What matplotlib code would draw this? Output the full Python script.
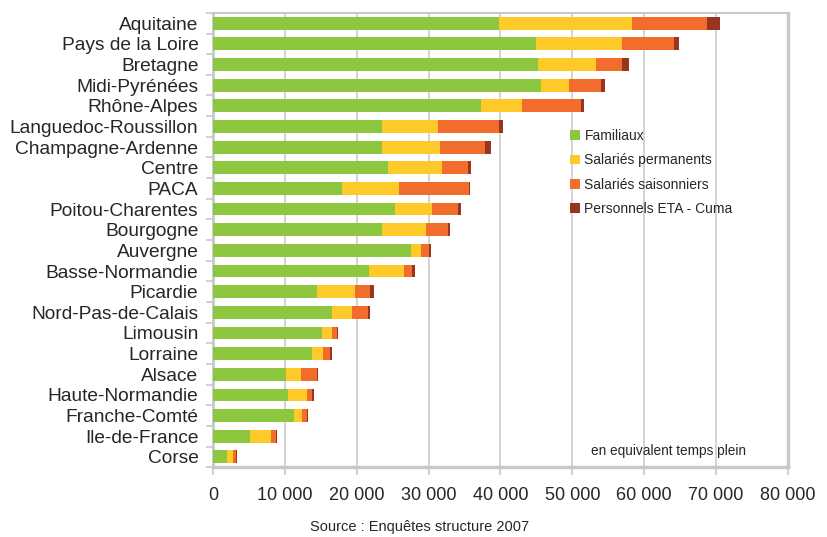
import matplotlib
matplotlib.use("Agg")
import matplotlib.pyplot as plt
from matplotlib.patches import Patch

plt.rcParams['font.family'] = ['Liberation Sans', 'DejaVu Sans']

regions = ["Aquitaine", "Pays de la Loire", "Bretagne", "Midi-Pyrénées", "Rhône-Alpes",
           "Languedoc-Roussillon", "Champagne-Ardenne", "Centre", "PACA", "Poitou-Charentes",
           "Bourgogne", "Auvergne", "Basse-Normandie", "Picardie", "Nord-Pas-de-Calais",
           "Limousin", "Lorraine", "Alsace", "Haute-Normandie", "Franche-Comté",
           "Ile-de-France", "Corse"]

familiaux = [39800, 44900, 45200, 45600, 37300, 23500, 23500, 24400, 17900, 25300,
             23500, 27500, 21650, 14500, 16600, 15200, 13800, 10200, 10450, 11300,
             5150, 1900]
permanents = [18500, 12000, 8100, 3900, 5700, 7800, 8100, 7500, 7950, 5200,
              6100, 1400, 4900, 5200, 2800, 1300, 1550, 2100, 2650, 1100,
              2900, 850]
saisonniers = [10400, 7300, 3600, 4500, 8200, 8500, 6200, 3650, 9800, 3600,
               3100, 1150, 1100, 2200, 2100, 800, 1000, 2200, 700, 700,
               750, 450]
eta_cuma = [1900, 700, 1000, 500, 400, 600, 900, 300, 50, 400,
            300, 250, 450, 450, 300, 150, 150, 150, 300, 150,
            100, 100]

series = [("Familiaux", familiaux, "#8dc63f"),
          ("Salariés permanents", permanents, "#fdca2a"),
          ("Salariés saisonniers", saisonniers, "#f26c2c"),
          ("Personnels ETA - Cuma", eta_cuma, "#98341f")]

fig = plt.figure(figsize=(8.28, 5.37), dpi=100)
ax = fig.add_axes([0.2572, 0.130, 0.6945, 0.846])

ypos = list(range(len(regions)))
left = [0] * len(regions)
for name, vals, col in series:
    ax.barh(ypos, vals, left=left, height=0.62, color=col, zorder=3, label=name)
    left = [a + b for a, b in zip(left, vals)]

ax.set_ylim(len(regions) - 0.5, -0.5)
ax.set_xlim(0, 80000)
ax.set_xticks(range(0, 80001, 10000))
ax.set_xticklabels(["0"] + [f"{v // 1000} 000" for v in range(10000, 80001, 10000)])
ax.grid(axis='x', color='#d0d0d0', linewidth=1.3, zorder=0)

ax.set_yticks(ypos)
ax.set_yticklabels(regions)
ax.set_yticks([i + 0.5 for i in range(-1, len(regions))], minor=True)
ax.tick_params(axis='y', which='major', length=0, pad=10.5, labelsize=13.8, labelcolor='#262626')
ax.tick_params(axis='y', which='minor', length=5, width=1.2, color='#c8c8c8')
ax.tick_params(axis='x', length=6, width=1.2, color='#c8c8c8', pad=8.5,
               labelsize=13, labelcolor='#262626')

for side in ['left', 'bottom', 'top', 'right']:
    ax.spines[side].set_color('#c8c8c8')
ax.spines['left'].set_linewidth(2)
ax.spines['bottom'].set_linewidth(2.5)
ax.spines['right'].set_linewidth(2.5)
ax.spines['top'].set_linewidth(1.5)

handles = [Patch(facecolor=c, edgecolor='none') for _, _, c in series]
ax.legend(handles, [s[0] for s in series], loc='upper left', bbox_to_anchor=(0.60, 0.772),
          frameon=False, fontsize=10, handlelength=0.7, handleheight=0.7,
          handletextpad=0.3, labelspacing=0.75, labelcolor='#262626')

ax.text(0.658, 0.036, "en equivalent temps plein", transform=ax.transAxes,
        fontsize=9.8, color='#262626', ha='left', va='center')
fig.text(0.507, 0.0186, "Source : Enquêtes structure 2007", fontsize=10.5,
         color='#262626', ha='center', va='center')

fig.savefig("out.png", dpi=100)
